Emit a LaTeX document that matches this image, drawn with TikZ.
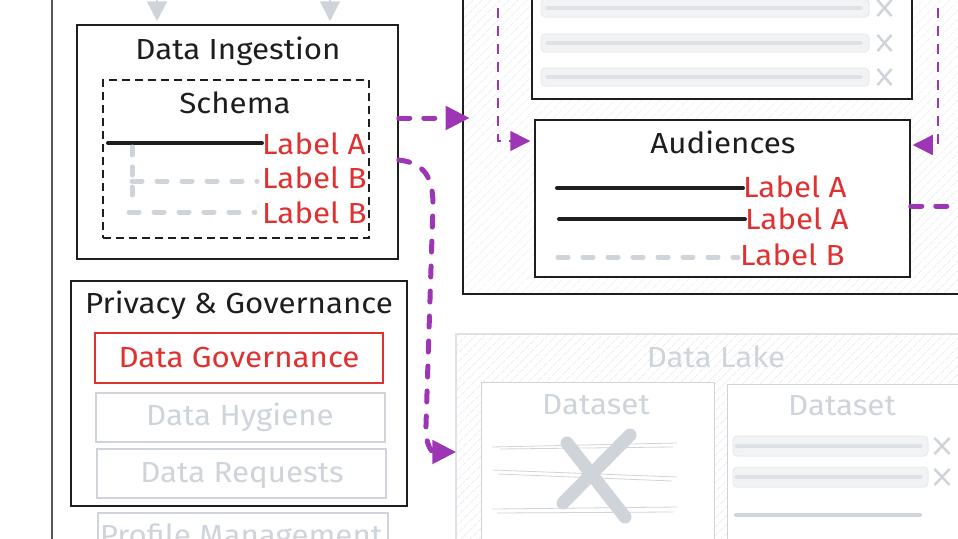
\documentclass[tikz,border=0pt]{standalone}
\usepackage{fontspec}
\setmainfont{Fira Sans}[FakeStretch=1.08]
\usetikzlibrary{arrows.meta,patterns.meta,fit,calc}
\definecolor{vio}{HTML}{9C36B5}
\definecolor{redc}{HTML}{E03131}
\definecolor{gr}{HTML}{CED4DA}
\definecolor{grl}{HTML}{DEE2E6}
\definecolor{grf}{HTML}{F1F3F5}
\definecolor{ink}{HTML}{1E1E1E}
\newcommand\fnt{\fontsize{29}{34}\selectfont}
\tikzset{
  box/.style={draw=ink, line width=1.5pt, inner sep=0pt, fill=white},
  hatch/.style={pattern={Lines[angle=45,distance=6.5pt,line width=0.6pt]}, pattern color=grl},
  hatchbox/.style={draw=ink, line width=1.5pt, inner sep=0pt, hatch},
  lakebox/.style={draw=grl, line width=1.5pt, inner sep=0pt, hatch},
  dsbox/.style={draw=gr, line width=1pt, inner sep=0pt, fill=white},
  schemabox/.style={draw=ink, line width=1.2pt, inner sep=0pt, dash pattern=on 8pt off 5pt},
  redbox/.style={draw=redc, line width=2pt, inner sep=0pt},
  graybox/.style={draw=gr, line width=2.2pt, inner sep=0pt},
  txt/.style={inner sep=0pt, anchor=base, font=\fnt, text=ink},
  lbl/.style={inner sep=0pt, anchor=base west, font=\fnt, text=redc},
  gtxt/.style={txt, text=gr},
  bar/.style={draw=grl!70, fill=grf, line width=1pt, rounded corners=4pt, inner sep=0pt},
  barline/.style={draw=grl, line width=4pt, line cap=round},
  xmark/.style={draw=gr, line width=2.5pt},
  blackline/.style={draw=ink, line width=4pt, line cap=round},
  graydash/.style={draw=gr, line width=5pt, line cap=round, dash pattern=on 10pt off 15pt},
  thickp/.style={draw=vio, line width=5pt, line cap=round, dash pattern=on 11pt off 14pt},
  thickarrow/.style={thickp, -{Triangle[length=24pt,width=23pt]}},
  thinarrow/.style={draw=vio, line width=1.6pt, dash pattern=on 10pt off 8pt, -{Triangle[length=20pt,width=20pt]}},
  grayarrow/.style={draw=gr, line width=2pt, -{Triangle[length=20pt,width=20pt]}},
  bigx/.style={draw=gr, line width=13pt, line cap=round},
  thinline/.style={draw=gr, line width=0.8pt},
}
\begin{document}
\begin{tikzpicture}[x=1pt,y=-1pt]
\useasboundingbox (0,0) rectangle (958,538);
\clip (0,0) rectangle (958,538);
% left frame line
\coordinate (l1) at (52,-5);
\coordinate (l2) at (52,545);
\draw[ink!75, line width=2pt] (l1) -- (l2);

% ---------- top container with audiences ----------
\node[hatchbox, fit={(463,-30) (990,294)}] (topc) {};
\node[box, fit={(532,-30) (912,99)}] (tbox) {};
\foreach \y/\n in {8/1,43/2,77/3} {
  \node[bar, fit={(541,\y-9) (869,\y+9)}] (tb\n) {};
  \draw[barline] ($(tb\n.west)+(7,0)$) -- ($(tb\n.east)+(-9,0)$);
  \draw[xmark] ($(tb\n.east)+(8,-8)$) -- ($(tb\n.east)+(22,8)$)
               ($(tb\n.east)+(8,8)$) -- ($(tb\n.east)+(22,-8)$);
}
\node[box, fit={(535,120) (910,277)}] (aud) {};
\node[txt] (audt) at (723,153) {Audiences};
\node[lbl] (aA1) at (743,197) {Label A};
\node[lbl] (aA2) at (745,229) {Label A};
\node[lbl] (aB1) at (740,265) {Label B};
\coordinate (aA1s) at (557,188);
\coordinate (aA2s) at (559,219);
\coordinate (aB1s) at (558,257);
\draw[blackline] (aA1s) -- (aA1s -| aA1.west);
\draw[blackline] (aA2s) -- (aA2s -| aA2.west);
\draw[graydash] (aB1s) -- ($(aB1s -| aB1.west)+(-2,0)$);

% ---------- data ingestion ----------
\node[box, fit={(77,25) (398,259)}] (ingest) {};
\node[txt] (ingt) at (238,59) {Data Ingestion};
\node[schemabox, fit={(103,80) (369,238)}] (schema) {};
\node[txt] (scht) at (235,113) {Schema};
\node[lbl] (sA) at (262,154) {Label A};
\node[lbl] (sB1) at (262,188) {Label B};
\node[lbl] (sB2) at (262,223) {Label B};
\coordinate (sAs) at (108,143);
\coordinate (sV) at (132,197);
\coordinate (sB1s) at (132,181);
\coordinate (sB2s) at (129,212);
\draw[blackline] (sAs) -- (sAs -| sA.west);
\draw[graydash, dash pattern=on 8pt off 12pt] (132,147) -- (sV);
\draw[graydash] (sB1s) -- ($(sB1s -| sB1.west)+(-5,0)$);
\draw[graydash] (sB2s) -- ($(sB2s -| sB2.west)+(-7,0)$);

% gray arrows entering from above
\coordinate (g1) at (157,-10);
\coordinate (g2) at (330,-10);
\draw[grayarrow] (g1) -- ($(g1 |- ingest.north)+(0,-3)$);
\draw[grayarrow] (g2) -- ($(g2 |- ingest.north)+(0,-3)$);

% ---------- privacy & governance ----------
\node[box, fit={(71,281) (407,506)}] (priv) {};
\node[txt] (privt) at (239,313) {Privacy \& Governance};
\node[redbox, fit={(95,333) (383,383)}] (gov) {};
\node[txt, text=redc] at (gov.center |- 0,367) {Data Governance};
\node[graybox, fit={(96,393) (385,442)}] (hyg) {};
\node[gtxt] at (240,425) {Data Hygiene};
\node[graybox, fit={(97,449) (386,498)}] (req) {};
\node[gtxt] at (242,482) {Data Requests};
\node[graybox, fit={(98,513) (388,580)}] (prof) {};
\node[gtxt] at (241,545) {Profile Management};

% ---------- data lake ----------
\node[lakebox, fit={(456,334) (990,580)}] (lake) {};
\node[gtxt] (laket) at (716,367) {Data Lake};
\node[dsbox, fit={(481,382) (714,580)}] (ds1) {};
\node[gtxt] at (596,414) {Dataset};
\draw[thinline] (492,447) -- (677,443) (500,449) -- (673,447);
\draw[thinline] (493,470) -- (677,477) (498,474) -- (672,481);
\draw[thinline] (492,509) -- (677,507) (497,513) -- (673,512);
\draw[bigx] (567,443) -- (625,517);
\draw[bigx] (630,435) -- (563,503);
\node[dsbox, fit={(727,384) (990,580)}] (ds2) {};
\node[gtxt] at (842,415) {Dataset};
\foreach \y/\n in {446/1,477/2} {
  \node[bar, fit={(733,\y-10) (928,\y+10)}] (db\n) {};
  \draw[barline] ($(db\n.west)+(4,0)$) -- ($(db\n.east)+(-8,0)$);
  \draw[xmark] ($(db\n.east)+(6,-8)$) -- ($(db\n.east)+(21,8)$)
               ($(db\n.east)+(6,8)$) -- ($(db\n.east)+(21,-8)$);
}
\coordinate (dl1) at (736,515);
\coordinate (dl2) at (920,515);
\draw[barline, draw=gr] (dl1) -- (dl2);

% ---------- purple connectors ----------
\coordinate (s1) at ($(ingest.east)+(0,-24)$);
\draw[thickarrow] (s1) -- ($(topc.west |- s1)+(7,0)$);
\coordinate (s5) at ($(ingest.east)+(0,18)$);
\coordinate (e5) at ($(lake.west)+(1,-5)$);
\draw[thickarrow] (s5) .. controls (425,163) and (433,178) .. (433,205)
   -- (426,425) .. controls (425,445) and (432,452) .. (e5);
\coordinate (p2) at (498,-10);
\draw[thinarrow] (p2) |- ($(aud.west)+(-4,-57.5)$);
\coordinate (p3) at (938,-10);
\draw[thinarrow] (p3) |- ($(aud.east)+(2,-53.5)$);
\coordinate (p4) at (975,206);
\draw[thickp] ($(aud.east)+(0,7.5)$) -- (p4);
\end{tikzpicture}
\end{document}
